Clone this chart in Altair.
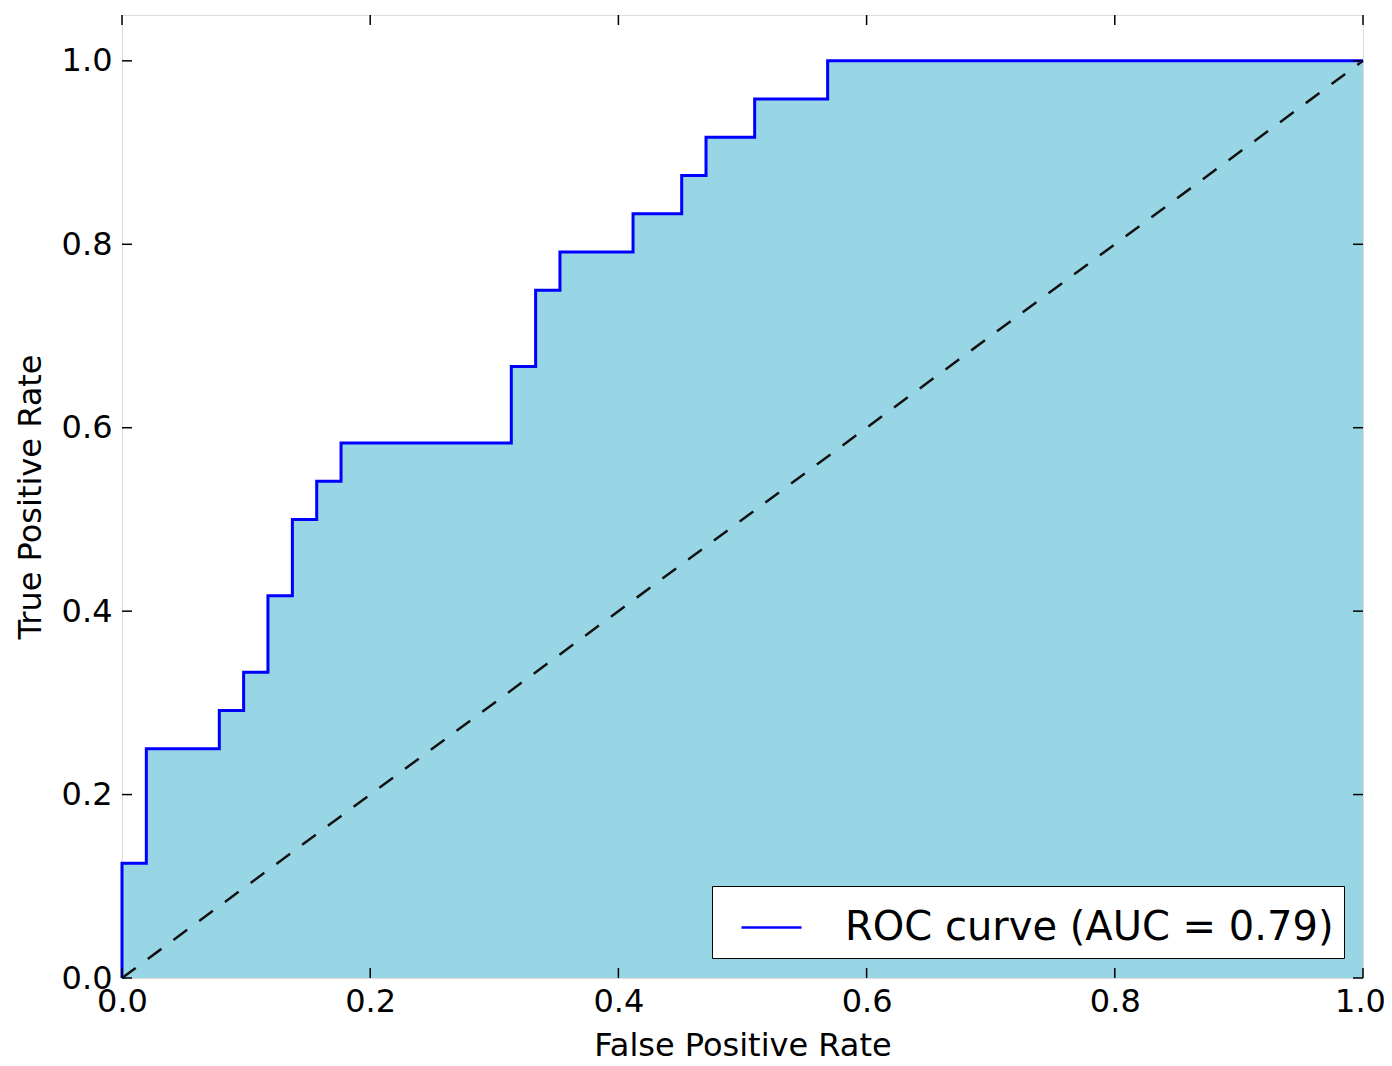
import altair as alt
import pandas as pd

# ROC curve corner points
fpr = [0.0, 0.0, 0.0196, 0.0196, 0.0784, 0.0784, 0.098, 0.098, 0.1176, 0.1176,
       0.1373, 0.1373, 0.1569, 0.1569, 0.1765, 0.1765, 0.3137, 0.3137, 0.3333, 0.3333,
       0.3529, 0.3529, 0.4118, 0.4118, 0.451, 0.451, 0.4706, 0.4706, 0.5098, 0.5098,
       0.5686, 0.5686, 1.0]
tpr = [0.0, 0.125, 0.125, 0.25, 0.25, 0.2917, 0.2917, 0.3333, 0.3333, 0.4167,
       0.4167, 0.5, 0.5, 0.5417, 0.5417, 0.5833, 0.5833, 0.6667, 0.6667, 0.75,
       0.75, 0.7917, 0.7917, 0.8333, 0.8333, 0.875, 0.875, 0.9167, 0.9167, 0.9583,
       0.9583, 1.0, 1.0]
diag_x = [0.0, 1.0]
diag_y = [0.0, 1.0]
tick_values = [0.0, 0.2, 0.4, 0.6, 0.8, 1.0]
series_label = "ROC curve (AUC = 0.79)"
title_text = "Receiver operating characteristic example"

W, H = 1241, 963
FONT = "DejaVu Sans"
TL = 10  # inward tick length

roc = pd.DataFrame({"fpr": fpr, "tpr": tpr, "order": list(range(len(fpr))),
                    "series": [series_label] * len(fpr)})
diag = pd.DataFrame({"x": diag_x, "y": diag_y})
ticks = pd.DataFrame({"t": tick_values})

xscale = alt.Scale(domain=[0, 1], nice=False, zero=False)
yscale = alt.Scale(domain=[0, 1.05], nice=False, zero=False)

xaxis = alt.Axis(values=tick_values, format=".1f", ticks=False, domain=False, grid=False,
                 labelFlush=False, labelFontSize=32, labelFont=FONT, labelColor="black",
                 labelPadding=8, labelOffset=alt.ExprRef("datum.value == 1 ? -3 : 0"),
                 title="False Positive Rate", titleFontSize=32, titleFont=FONT,
                 titleFontWeight="normal", titleColor="black", titlePadding=13)
yaxis = alt.Axis(values=tick_values, format=".1f", ticks=False, domain=False, grid=False,
                 labelFlush=False, labelFontSize=32, labelFont=FONT, labelColor="black",
                 labelPadding=10, title="True Positive Rate", titleFontSize=32, titleFont=FONT,
                 titleFontWeight="normal", titleColor="black", titlePadding=14)

area = alt.Chart(roc).mark_area(color="#98d6e6", opacity=1, interpolate="linear").encode(
    x=alt.X("fpr:Q", scale=xscale, axis=xaxis),
    y=alt.Y("tpr:Q", scale=yscale, axis=yaxis, stack=None),
)

line = alt.Chart(roc).mark_line(strokeWidth=3).encode(
    x=alt.X("fpr:Q", scale=xscale),
    y=alt.Y("tpr:Q", scale=yscale),
    order="order:Q",
    color=alt.Color("series:N",
                    scale=alt.Scale(domain=[series_label], range=["#0000ff"]),
                    legend=alt.Legend(title=None, orient="none", legendX=590, legendY=871,
                                      padding=10, strokeColor="black", fillColor="white",
                                      cornerRadius=0, symbolType="stroke", symbolSize=3600,
                                      symbolStrokeWidth=2.5, symbolOffset=18, labelOffset=42,
                                      labelFontSize=40, labelFont=FONT, labelColor="black",
                                      labelLimit=2000)),
)

diag_line = alt.Chart(diag).mark_line(color="#111111", strokeWidth=2.5, strokeDash=[17, 15]).encode(
    x=alt.X("x:Q", scale=xscale),
    y=alt.Y("y:Q", scale=yscale),
)

tick_style = dict(color="black", strokeWidth=1.5)
bottom_ticks = alt.Chart(ticks).mark_rule(**tick_style).encode(
    x=alt.X("t:Q", scale=xscale), y=alt.value(H), y2=alt.value(H - TL))
top_ticks = alt.Chart(ticks).mark_rule(**tick_style).encode(
    x=alt.X("t:Q", scale=xscale), y=alt.value(0), y2=alt.value(TL))
left_ticks = alt.Chart(ticks).mark_rule(**tick_style).encode(
    y=alt.Y("t:Q", scale=yscale), x=alt.value(0), x2=alt.value(TL))
right_ticks = alt.Chart(ticks).mark_rule(**tick_style).encode(
    y=alt.Y("t:Q", scale=yscale), x=alt.value(W), x2=alt.value(W - TL))

chart = alt.layer(area, diag_line, line, bottom_ticks, top_ticks, left_ticks, right_ticks).properties(
    width=W, height=H,
    title=alt.TitleParams(text=title_text, fontSize=38, font=FONT, fontWeight="normal",
                          color="black", anchor="middle", baseline="alphabetic", offset=8),
    autosize=alt.AutoSizeParams(type="none"),
    padding={"left": 114, "top": 7, "right": 21, "bottom": 80},
).configure_view(stroke="black", strokeWidth=2.5).configure(background="white")

chart.save("out.html", embed_options={"renderer": "svg", "actions": False})
